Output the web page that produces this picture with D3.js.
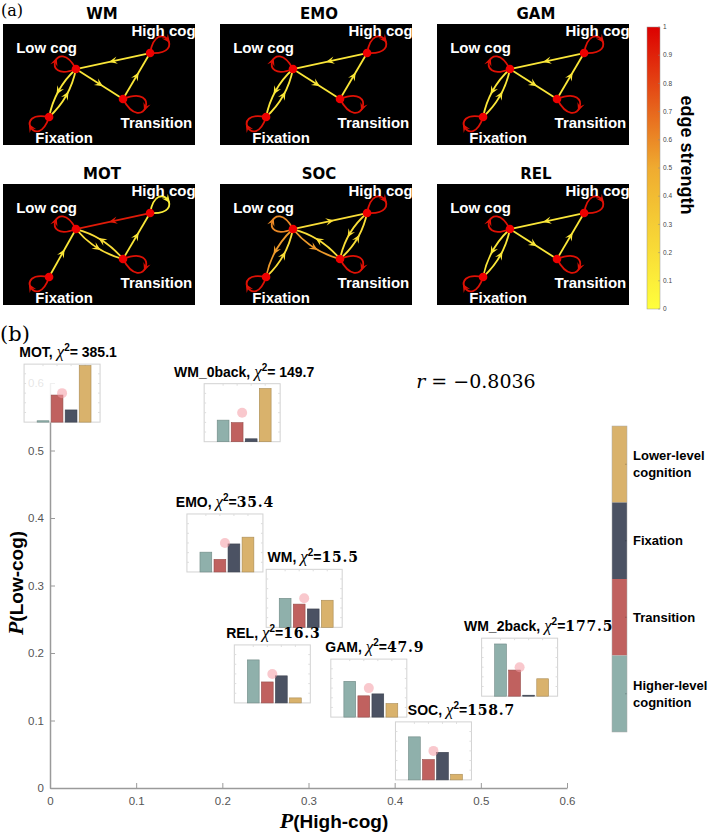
<!DOCTYPE html>
<html><head><meta charset="utf-8">
<script src="https://cdn.jsdelivr.net/npm/d3@7"></script>
<style>body{margin:0;background:#fff} svg{display:block}</style>
</head><body><svg id="c" width="709" height="835"></svg>
<script>
// ================= DATA =================
// (a) transition networks
const tasks = ["WM", "EMO", "GAM", "MOT", "SOC", "REL"];
const states = ["High cog", "Low cog", "Transition", "Fixation"];
// directed edges: [source, target, edge strength]
const edgesWM  = [["Low cog","Fixation",0.15],["Fixation","Low cog",0.15],["Low cog","Transition",0.15],["Transition","High cog",0.15],["High cog","Low cog",0.15]];
const edgesEMO = [["Low cog","Fixation",0.15],["Fixation","Low cog",0.15],["Low cog","Transition",0.15],["Transition","High cog",0.15],["High cog","Low cog",0.15]];
const edgesGAM = [["Low cog","Fixation",0.15],["Fixation","Low cog",0.15],["Low cog","Transition",0.15],["Transition","High cog",0.15],["High cog","Low cog",0.15]];
const edgesMOT = [["High cog","Low cog",0.92],["Low cog","Transition",0.2],["Transition","Low cog",0.2],["Fixation","Low cog",0.15],["Transition","High cog",0.15]];
const edgesSOC = [["Low cog","High cog",0.2],["Low cog","Transition",0.55],["Transition","Low cog",0.2],["High cog","Transition",0.2],["Transition","High cog",0.2],["Low cog","Fixation",0.55],["Fixation","Low cog",0.2]];
const edgesREL = [["Low cog","Fixation",0.15],["Fixation","Low cog",0.15],["Low cog","Transition",0.15],["Transition","High cog",0.15],["High cog","Low cog",0.15]];
// self-loop strengths, order of `states`
const loopsWM  = [0.95, 0.95, 0.95, 0.95];
const loopsEMO = [0.95, 0.95, 0.95, 0.95];
const loopsGAM = [0.95, 0.95, 0.95, 0.95];
const loopsMOT = [0.1, 0.95, 0.95, 0.95];
const loopsSOC = [0.95, 0.6, 0.95, 0.95];
const loopsREL = [0.95, 0.95, 0.95, 0.95];
const strengthTicks = [0, 0.1, 0.2, 0.3, 0.4, 0.5, 0.6, 0.7, 0.8, 0.9, 1];

// (b) scatter with inset bar charts
const conditions = ["MOT", "WM_0back", "EMO", "WM", "REL", "GAM", "WM_2back", "SOC"];
const chiSquare  = ["385.1", "149.7", "35.4", "15.5", "16.3", "47.9", "177.5", "158.7"];
const pHighCog   = [0.014, 0.223, 0.203, 0.295, 0.258, 0.370, 0.545, 0.445];
const pLowCog    = [0.585, 0.556, 0.363, 0.281, 0.169, 0.148, 0.179, 0.055];
const barHigher  = [0.014, 0.223, 0.205, 0.300, 0.445, 0.370, 0.540, 0.445];
const barTrans   = [0.280, 0.197, 0.130, 0.240, 0.217, 0.220, 0.270, 0.210];
const barFix     = [0.126, 0.030, 0.290, 0.190, 0.280, 0.240, 0.010, 0.285];
const barLower   = [0.585, 0.550, 0.360, 0.280, 0.052, 0.140, 0.180, 0.058];
const barStates  = ["Higher-level cognition", "Transition", "Fixation", "Lower-level cognition"];
const xTicks = [0, 0.1, 0.2, 0.3, 0.4, 0.5, 0.6];
const yTicks = [0, 0.1, 0.2, 0.3, 0.4, 0.5, 0.6];
const correlation = "\u22120.8036";

// ================= LAYOUT / STYLE =================
const edgeSets = {WM: edgesWM, EMO: edgesEMO, GAM: edgesGAM, MOT: edgesMOT, SOC: edgesSOC, REL: edgesREL};
const loopSets = {WM: loopsWM, EMO: loopsEMO, GAM: loopsGAM, MOT: loopsMOT, SOC: loopsSOC, REL: loopsREL};
const nodeLayout  = {"High cog":[0.766,0.240], "Low cog":[0.380,0.372], "Transition":[0.625,0.620], "Fixation":[0.240,0.769]};
const labelLayout = {"High cog":[0.836,0.099], "Low cog":[0.227,0.240], "Transition":[0.799,0.860], "Fixation":[0.318,0.983]};
const loopLayout  = {"High cog":[-38,22], "Low cog":[200,22], "Transition":[20,24], "Fixation":[150,21]}; // angle deg, length px
const barColors = {"Higher-level cognition":"#8fb0ab", "Transition":"#c0615f", "Fixation":"#4b5263", "Lower-level cognition":"#d9b26c"};
const legendOrder = ["Lower-level cognition", "Fixation", "Transition", "Higher-level cognition"];
const insetLabelDx = {MOT:6, WM_0back:2, EMO:0, WM:9, REL:1, GAM:6, WM_2back:19, SOC:28};
const sansChi = new Set(["MOT", "WM_0back"]);
const SANS = "'Liberation Sans', Arial, sans-serif";

const svg = d3.select("#c");
const colorScale = d3.scaleLinear().domain([0, 0.5, 1]).range(["#ffff3c", "#efab30", "#dc0000"]);

// ---------------- (a) ----------------
svg.append("text").attr("x", 1).attr("y", 16).attr("font-family", "'DejaVu Serif', serif").attr("font-size", 16).text("(a)");

const panelW = 192, panelH = 121;
const colScale = d3.scalePoint().domain([0, 1, 2]).range([3, 437]);
const rowScale = d3.scalePoint().domain([0, 1]).range([24, 184]);
const px = d3.scaleLinear().domain([0, 1]).range([0, panelW]);
const py = d3.scaleLinear().domain([0, 1]).range([0, panelH]);

function arrowHead(g, m, ang, color, size) {
  const ux = Math.cos(ang), uy = Math.sin(ang), nx = -uy, ny = ux, s = size;
  const pts = [[m[0]+ux*s, m[1]+uy*s], [m[0]-ux*s+nx*s*0.9, m[1]-uy*s+ny*s*0.9], [m[0]-ux*s*0.2, m[1]-uy*s*0.2], [m[0]-ux*s-nx*s*0.9, m[1]-uy*s-ny*s*0.9]];
  g.append("path").attr("d", "M" + pts.map(p => p.join(",")).join("L") + "Z").attr("fill", color);
}

tasks.forEach((task, i) => {
  const ox = colScale(i % 3), oy = rowScale(Math.floor(i / 3));
  svg.append("text").attr("x", ox + panelW / 2 + 3).attr("y", oy - 5).attr("text-anchor", "middle")
    .attr("font-family", "'DejaVu Sans', sans-serif").attr("font-weight", "bold").attr("font-size", 15).text(task);
  const g = svg.append("g").attr("transform", `translate(${ox},${oy})`);
  g.append("rect").attr("width", panelW).attr("height", panelH).attr("fill", "#000");
  const pos = n => [px(nodeLayout[n][0]), py(nodeLayout[n][1])];
  const edges = edgeSets[task];
  edges.forEach(([s, t, w]) => {
    const ps = pos(s), pt = pos(t);
    const pair = edges.some(e => e[0] === t && e[1] === s);
    const dx = pt[0]-ps[0], dy = pt[1]-ps[1], len = Math.hypot(dx, dy);
    const nx = -dy/len, ny = dx/len, off = pair ? 9 : 0;
    const c = [(ps[0]+pt[0])/2 + nx*off, (ps[1]+pt[1])/2 + ny*off];
    const col = colorScale(w);
    g.append("path").attr("d", `M${ps[0]},${ps[1]}Q${c[0]},${c[1]} ${pt[0]},${pt[1]}`)
      .attr("fill", "none").attr("stroke", col).attr("stroke-width", 1.8);
    const m = [0.25*ps[0]+0.5*c[0]+0.25*pt[0], 0.25*ps[1]+0.5*c[1]+0.25*pt[1]];
    arrowHead(g, m, Math.atan2(dy, dx), col, 4.2);
  });
  states.forEach((n, k) => {
    const [angD, L0] = loopLayout[n];
    const a = 42*Math.PI/180, th = angD*Math.PI/180, L = L0/(0.75*Math.cos(a));
    const p0 = pos(n);
    const p1 = [p0[0]+L*Math.cos(th-a), p0[1]+L*Math.sin(th-a)];
    const p2 = [p0[0]+L*Math.cos(th+a), p0[1]+L*Math.sin(th+a)];
    const col = colorScale(loopSets[task][k]);
    g.append("path").attr("d", `M${p0}C${p1} ${p2} ${p0}`).attr("fill", "none").attr("stroke", col).attr("stroke-width", 1.8);
    const m = [p0[0]+L0*Math.cos(th), p0[1]+L0*Math.sin(th)];
    arrowHead(g, m, th + Math.PI/2, col, 4.2);
  });
  states.forEach(n => {
    const p = pos(n);
    g.append("circle").attr("cx", p[0]).attr("cy", p[1]).attr("r", 4.3).attr("fill", "#ee0000");
  });
  states.forEach(n => {
    g.append("text").attr("x", px(labelLayout[n][0])).attr("y", py(labelLayout[n][1])).attr("text-anchor", "middle")
      .attr("font-family", SANS).attr("font-weight", "bold").attr("font-size", 15).attr("fill", "#fff").text(n);
  });
});

// colorbar
const cb = {x: 647, w: 13};
const cbScale = d3.scaleLinear().domain([0, 1]).range([309, 27]);
const defs = svg.append("defs");
const grad = defs.append("linearGradient").attr("id", "cbg").attr("x1", 0).attr("y1", 1).attr("x2", 0).attr("y2", 0);
strengthTicks.forEach(t => grad.append("stop").attr("offset", t).attr("stop-color", colorScale(t)));
svg.append("rect").attr("x", cb.x).attr("y", cbScale(1)).attr("width", cb.w).attr("height", cbScale(0) - cbScale(1))
  .attr("fill", "url(#cbg)").attr("stroke", "#999").attr("stroke-width", 0.5);
strengthTicks.forEach(t => {
  svg.append("line").attr("x1", cb.x + cb.w - 2).attr("x2", cb.x + cb.w).attr("y1", cbScale(t)).attr("y2", cbScale(t)).attr("stroke", "#888").attr("stroke-width", 0.5);
  svg.append("text").attr("x", cb.x + cb.w + 3).attr("y", cbScale(t)).attr("dy", "0.35em").attr("font-family", SANS)
    .attr("font-size", 6.5).attr("fill", "#444").text(t === 0 ? "0" : t === 1 ? "1" : d3.format(".1f")(t));
});
svg.append("text").attr("transform", "translate(687,155) rotate(90)").attr("text-anchor", "middle").attr("dy", "0.35em")
  .attr("font-family", SANS).attr("font-weight", "bold").attr("font-size", 18).text("edge strength");

// ---------------- (b) ----------------
svg.append("text").attr("x", 0).attr("y", 341).attr("font-family", "'DejaVu Serif', serif").attr("font-size", 21).text("(b)");

const x = d3.scaleLinear().domain([0, 0.6]).range([50, 567]);
const y = d3.scaleLinear().domain([0, 0.6]).range([788, 383]);
const fmt = d => d === 0 ? "0" : d3.format(".1f")(d);

const gx = svg.append("g").attr("transform", `translate(0,${y(0)})`)
  .call(d3.axisBottom(x).tickValues(xTicks).tickFormat(fmt).tickSizeInner(-5).tickSizeOuter(0).tickPadding(9));
const gy = svg.append("g").attr("transform", `translate(${x(0)},0)`)
  .call(d3.axisLeft(y).tickValues(yTicks).tickFormat(fmt).tickSizeInner(-5).tickSizeOuter(0).tickPadding(6));
[gx, gy].forEach(g => {
  g.select(".domain").attr("stroke", "#9a9a9a").attr("stroke-width", 1.5);
  g.selectAll(".tick line").attr("stroke", "#9a9a9a");
  g.selectAll(".tick text").attr("font-family", SANS).attr("font-size", 11.5).attr("fill", "#555");
});

// axis titles
const xt = svg.append("text").attr("x", 334).attr("y", 828).attr("text-anchor", "middle")
  .attr("font-family", SANS).attr("font-weight", "bold").attr("font-size", 19);
xt.append("tspan").attr("font-family", "'Liberation Serif', serif").attr("font-style", "italic").attr("font-size", 22).text("P");
xt.append("tspan").text("(High-cog)");
const yt = svg.append("text").attr("transform", "translate(16,583) rotate(-90)").attr("text-anchor", "middle").attr("dy", "0.35em")
  .attr("font-family", SANS).attr("font-weight", "bold").attr("font-size", 19);
yt.append("tspan").attr("font-family", "'Liberation Serif', serif").attr("font-style", "italic").attr("font-size", 22).text("P");
yt.append("tspan").text("(Low-cog)");

// correlation
const rt = svg.append("text").attr("x", x(0.425)).attr("y", y(0.593)).attr("font-family", "'DejaVu Serif', serif").attr("font-size", 19);
rt.append("tspan").attr("font-style", "italic").text("r");
rt.append("tspan").text(" = " + correlation);

// insets
const insetW = 76, insetH = 58;
const bx = d3.scaleBand().domain(barStates).range([8, 72]).paddingInner(0.16).paddingOuter(0.36);
const by = d3.scaleLinear().domain([0, 0.6]).range([insetH, 0]);
conditions.forEach((c, i) => {
  const cx = x(pHighCog[i]), cy = y(pLowCog[i]);
  const g = svg.append("g").attr("transform", `translate(${cx - insetW/2},${cy - insetH/2})`);
  g.append("rect").attr("width", insetW).attr("height", insetH).attr("fill", "#fff").attr("fill-opacity", 0.85)
    .attr("stroke", "#d2d2d2").attr("stroke-width", 1);
  barStates.forEach(s => {
    const tx = bx(s) + bx.bandwidth()/2;
    g.append("line").attr("x1", tx).attr("x2", tx).attr("y1", 0).attr("y2", 2).attr("stroke", "#ddd");
  });
  [0.1, 0.2, 0.3, 0.4, 0.5].forEach(v => {
    g.append("line").attr("x1", 0).attr("x2", 2).attr("y1", by(v)).attr("y2", by(v)).attr("stroke", "#ddd");
    g.append("line").attr("x1", insetW - 2).attr("x2", insetW).attr("y1", by(v)).attr("y2", by(v)).attr("stroke", "#ddd");
  });
  const vals = [barHigher[i], barTrans[i], barFix[i], barLower[i]];
  barStates.forEach((s, k) => {
    g.append("rect").attr("x", bx(s)).attr("y", by(vals[k])).attr("width", bx.bandwidth()).attr("height", insetH - by(vals[k]))
      .attr("fill", barColors[s]).attr("stroke", d3.color(barColors[s]).darker(0.7)).attr("stroke-width", 0.6);
  });
  svg.append("circle").attr("cx", cx).attr("cy", cy).attr("r", 5).attr("fill", "#f49aa4").attr("fill-opacity", 0.55);

  const t = svg.append("text").attr("x", cx + insetLabelDx[c]).attr("y", cy - insetH/2 - 7).attr("text-anchor", "middle")
    .attr("font-family", SANS).attr("font-weight", "bold").attr("font-size", 14);
  t.append("tspan").text(c + ", ");
  t.append("tspan").attr("font-family", "'Liberation Serif', serif").attr("font-style", "italic").attr("font-weight", "normal").attr("font-size", 17).text("\u03c7");
  t.append("tspan").attr("dy", -6).attr("font-size", 10).text("2");
  if (sansChi.has(c)) {
    t.append("tspan").attr("dy", 6).text("= " + chiSquare[i]);
  } else {
    t.append("tspan").attr("dy", 6).text("=");
    t.append("tspan").attr("font-family", "'DejaVu Serif', serif").attr("letter-spacing", 0.8).text(chiSquare[i]);
  }
});

// legend (b)
const ly = d3.scaleBand().domain(legendOrder).range([426, 732]);
legendOrder.forEach(s => {
  svg.append("rect").attr("x", 612).attr("y", ly(s)).attr("width", 15).attr("height", ly.bandwidth()).attr("fill", barColors[s]);
  svg.append("line").attr("x1", 625).attr("x2", 627).attr("y1", ly(s) + ly.bandwidth()/2).attr("y2", ly(s) + ly.bandwidth()/2)
    .attr("stroke", d3.color(barColors[s]).darker(0.8)).attr("stroke-width", 0.8);
  const words = s.split(" ");
  const lines = words.length > 1 && s.includes("-") ? [words[0], words.slice(1).join(" ")] : [s];
  const tt = svg.append("text").attr("font-family", SANS).attr("font-weight", "bold").attr("font-size", 13);
  lines.forEach((ln, k) => {
    tt.append("tspan").attr("x", 633).attr("y", ly(s) + ly.bandwidth()/2 + (k - (lines.length - 1)/2) * 17).attr("dy", "0.35em").text(ln);
  });
});
svg.append("rect").attr("x", 612).attr("y", 426).attr("width", 15).attr("height", 306).attr("fill", "none").attr("stroke", "#aaa").attr("stroke-width", 0.5);
</script>
</body></html>
